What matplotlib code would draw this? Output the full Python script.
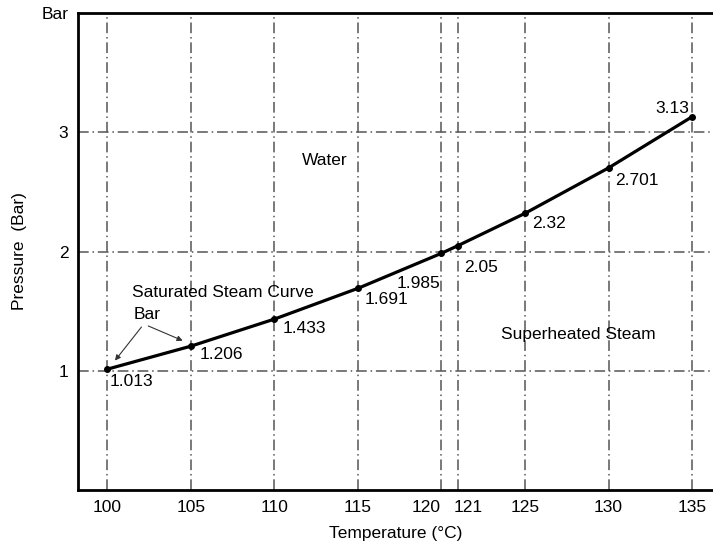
import matplotlib.pyplot as plt
import matplotlib.transforms as mtransforms

# saturated steam curve
temps = [100, 105, 110, 115, 120, 121, 125, 130, 135]
pressures = [1.013, 1.206, 1.433, 1.691, 1.985, 2.05, 2.32, 2.701, 3.13]
point_labels = ["1.013", "1.206", "1.433", "1.691", "1.985", "2.05", "2.32", "2.701", "3.13"]
# label offsets in points (dx, dy) and horizontal alignment
label_offsets = [(2, -9), (6.5, -6), (6, -7), (5, -8), (-1, -22), (4, -16), (5, -7), (4.5, -9), (-2, 6)]
label_ha = ["left", "left", "left", "left", "right", "left", "left", "left", "right"]

xticks = [100, 105, 110, 115, 120, 121, 125, 130, 135]
yticks = [1, 2, 3]

plt.rcParams['font.family'] = ['Liberation Sans', 'DejaVu Sans']
fs = 12.5

f = plt.figure(figsize=(7.13, 5.43), dpi=100)
ax = f.add_axes([78 / 713, 53 / 543, 1 - 78 / 713, 477 / 543])

ax.set_xlim(98.25, 136.25)
ax.set_ylim(0, 4)

# grid
gls = (0, (7, 2.5, 1, 2.5))
for x in xticks:
    ax.axvline(x, color='#555555', lw=1.1, ls=gls, zorder=1)
for y in yticks:
    ax.axhline(y, color='#555555', lw=1.1, ls=gls, zorder=1)

ax.plot(temps, pressures, color='black', lw=2.3, marker='o', ms=4, zorder=3)

for t, p, lab, off, ha in zip(temps, pressures, point_labels, label_offsets, label_ha):
    ax.annotate(lab, (t, p), xytext=off, textcoords='offset points', ha=ha, va='center', fontsize=fs)

ax.text(113, 2.76, "Water", fontsize=fs, ha='center', va='center')
ax.text(106.9, 1.66, "Saturated Steam Curve", fontsize=fs, ha='center', va='center')
ax.text(128.2, 1.30, "Superheated Steam", fontsize=fs, ha='center', va='center')
ax.text(102.4, 1.47, "Bar", fontsize=fs, ha='center', va='center')
ax.annotate("", xy=(100.36, 1.067), xytext=(102.15, 1.385),
            arrowprops=dict(arrowstyle='-|>', color='#333333', lw=0.8, mutation_scale=8))
ax.annotate("", xy=(104.67, 1.243), xytext=(102.3, 1.385),
            arrowprops=dict(arrowstyle='-|>', color='#333333', lw=0.8, mutation_scale=8))

ax.set_xticks(xticks)
ax.set_xticklabels([str(x) for x in xticks])
ax.set_yticks(yticks + [4])
ax.set_yticklabels([str(y) for y in yticks] + ["Bar"])
ax.tick_params(length=0, labelsize=fs, pad=7)

# push the crowded 120 / 121 labels apart
labs = ax.get_xticklabels()
labs[4].set_transform(labs[4].get_transform() + mtransforms.ScaledTranslation(-11 / 72, 0, f.dpi_scale_trans))
labs[5].set_transform(labs[5].get_transform() + mtransforms.ScaledTranslation(7 / 72, 0, f.dpi_scale_trans))

ax.set_xlabel("Temperature (°C)", fontsize=fs, labelpad=8)
ax.set_ylabel("Pressure  (Bar)", fontsize=fs, labelpad=10)

for s in ['left', 'top', 'bottom']:
    ax.spines[s].set_linewidth(2)
ax.spines['right'].set_visible(False)

plt.savefig('out.png', dpi=100)
